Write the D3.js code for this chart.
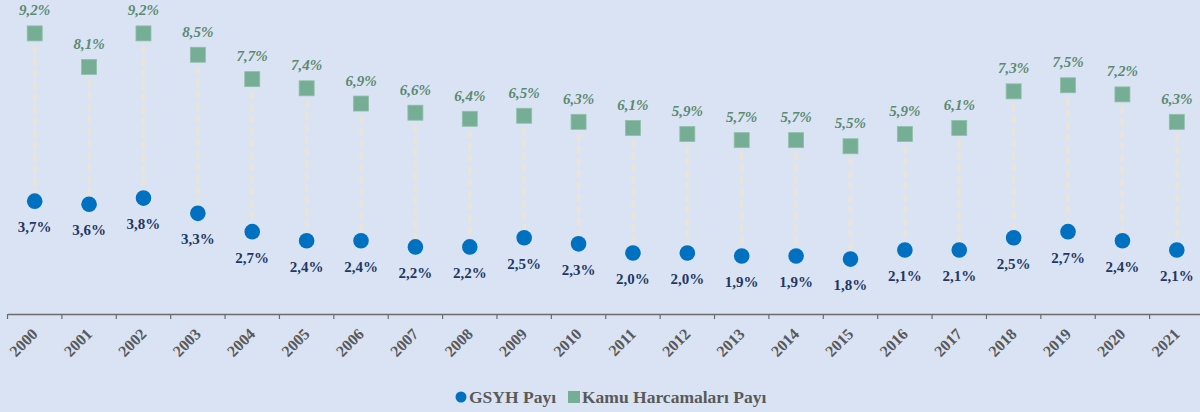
<!DOCTYPE html>
<html>
<head>
<meta charset="utf-8">
<script src="https://cdn.jsdelivr.net/npm/d3@7"></script>
<style>
  html, body { margin: 0; padding: 0; background: #dae3f3; }
  svg { display: block; }
  svg text { font-family: "Liberation Serif", "Times New Roman", Times, serif; }
</style>
</head>
<body>
<svg id="chart" width="1200" height="412"></svg>
<script>
const years = ["2000", "2001", "2002", "2003", "2004", "2005", "2006", "2007", "2008", "2009", "2010",
  "2011", "2012", "2013", "2014", "2015", "2016", "2017", "2018", "2019", "2020", "2021"];
const gsyhValues = [3.7, 3.6, 3.8, 3.3, 2.7, 2.4, 2.4, 2.2, 2.2, 2.5, 2.3, 2.0, 2.0, 1.9, 1.9, 1.8, 2.1, 2.1, 2.5, 2.7, 2.4, 2.1];
const kamuValues = [9.2, 8.1, 9.2, 8.5, 7.7, 7.4, 6.9, 6.6, 6.4, 6.5, 6.3, 6.1, 5.9, 5.7, 5.7, 5.5, 5.9, 6.1, 7.3, 7.5, 7.2, 6.3];
const legendLabels = ["GSYH Payı", "Kamu Harcamaları Payı"];

const svg = d3.select("#chart");
const axisY = 314;

const rows = years.map((year, i) => ({ year, gsyh: gsyhValues[i], kamu: kamuValues[i] }));

const x = d3.scaleBand().domain(years).range([7.5, 1204]).padding(0);
const y = d3.scaleLinear().domain([0, 10]).range([axisY, 9]);
const fmt = (v) => d3.format(".1f")(v).replace(".", ",") + "%";
const cx = (d) => x(d.year) + x.bandwidth() / 2;

// dashed connectors
svg.append("g")
  .selectAll("line")
  .data(rows)
  .join("line")
  .attr("x1", cx)
  .attr("x2", cx)
  .attr("y1", (d) => y(d.kamu))
  .attr("y2", (d) => y(d.gsyh))
  .attr("stroke", "#e8e3db")
  .attr("stroke-width", 4)
  .attr("stroke-dasharray", "8,4");

// x axis
const xAxis = svg.append("g")
  .attr("transform", `translate(0,${axisY})`)
  .call(d3.axisBottom(x).tickSize(0).tickSizeOuter(0));
xAxis.select(".domain").attr("stroke", "#6b6b6b").attr("stroke-width", 1.5);
xAxis.selectAll("text")
  .attr("fill", "#595959")
  .attr("font-size", 16)
  .attr("font-weight", "bold")
  .attr("font-family", null)
  .attr("text-anchor", "end")
  .attr("dy", null)
  .attr("y", 0)
  .attr("transform", "translate(4,21) rotate(-45)");

// band boundary ticks
svg.append("g")
  .selectAll("line")
  .data(years)
  .join("line")
  .attr("x1", (d) => x(d))
  .attr("x2", (d) => x(d))
  .attr("y1", axisY)
  .attr("y2", axisY + 5)
  .attr("stroke", "#6b6b6b")
  .attr("stroke-width", 1.2);

// squares
svg.append("g")
  .selectAll("rect")
  .data(rows)
  .join("rect")
  .attr("x", (d) => cx(d) - 7.5)
  .attr("y", (d) => y(d.kamu) - 7.5)
  .attr("width", 15)
  .attr("height", 15)
  .attr("fill", "#75ae94")
  .attr("stroke", "#8fbfa8")
  .attr("stroke-width", 0.8);

// circles
svg.append("g")
  .selectAll("circle")
  .data(rows)
  .join("circle")
  .attr("cx", cx)
  .attr("cy", (d) => y(d.gsyh))
  .attr("r", 7.8)
  .attr("fill", "#0070c0");

// labels
svg.append("g")
  .selectAll("text")
  .data(rows)
  .join("text")
  .attr("x", cx)
  .attr("y", (d) => y(d.kamu) - 18)
  .attr("text-anchor", "middle")
  .attr("font-size", 15)
  .attr("font-weight", "bold")
  .attr("font-style", "italic")
  .attr("fill", "#5b8a72")
  .text((d) => fmt(d.kamu));

svg.append("g")
  .selectAll("text")
  .data(rows)
  .join("text")
  .attr("x", cx)
  .attr("y", (d) => y(d.gsyh) + 31)
  .attr("text-anchor", "middle")
  .attr("font-size", 15)
  .attr("font-weight", "bold")
  .attr("fill", "#1f3864")
  .text((d) => fmt(d.gsyh));

// legend
const legend = svg.append("g").attr("transform", "translate(0,397)");
legend.append("circle").attr("cx", 461).attr("cy", 0).attr("r", 5.5).attr("fill", "#0070c0");
legend.append("text").attr("x", 469).attr("y", 6)
  .attr("font-size", 17.5).attr("font-weight", "bold").attr("fill", "#595959")
  .text(legendLabels[0]);
legend.append("rect").attr("x", 568).attr("y", -6).attr("width", 12).attr("height", 12).attr("fill", "#75ae94");
legend.append("text").attr("x", 582).attr("y", 6)
  .attr("font-size", 17.5).attr("font-weight", "bold").attr("fill", "#595959")
  .text(legendLabels[1]);
</script>
</body>
</html>
